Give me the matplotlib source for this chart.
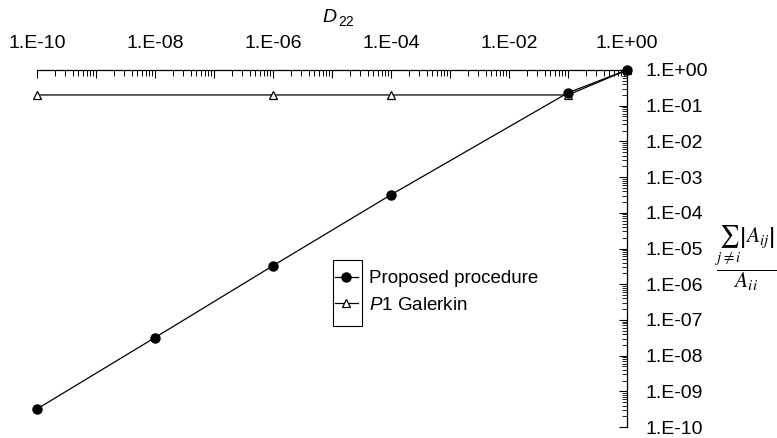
import math
import matplotlib
matplotlib.use("Agg")
import matplotlib.pyplot as plt
from matplotlib.patches import Rectangle
from matplotlib.ticker import LogLocator, FuncFormatter, NullFormatter

plt.rcParams["font.family"] = ["Liberation Sans", "DejaVu Sans"]
plt.rcParams["mathtext.fontset"] = "custom"
plt.rcParams["mathtext.rm"] = "Liberation Sans"
plt.rcParams["mathtext.it"] = "Liberation Sans:italic"

# D22 values and diagonal-dominance measure
d22 = [1e-10, 1e-8, 1e-6, 1e-4, 1e-1, 1e0]
proposed = [3.2e-10, 3.2e-8, 3.3e-6, 3.2e-4, 0.23, 1.0]
d22_gal = [1e-10, 1e-6, 1e-4, 1e-1, 1e0]
galerkin = [0.2, 0.2, 0.2, 0.2, 1.0]

W, H = 777, 438
fig = plt.figure(figsize=(W / 100, H / 100), dpi=100)
ax = fig.add_axes([37 / W, 1 - 427 / H, (627 - 37) / W, (427 - 70) / H])

ax.plot(d22_gal, galerkin, "-", color="black", lw=0.9, marker="^", ms=6,
        mfc="white", mec="black", mew=0.9, clip_on=False, label=r"$\mathit{P}$1 Galerkin", zorder=3)
ax.plot(d22, proposed, "-", color="black", lw=0.9, marker="o", ms=6.5,
        mfc="black", mec="black", clip_on=False, label="Proposed procedure", zorder=4)

ax.set_xscale("log"); ax.set_yscale("log")
ax.set_xlim(1e-10, 1); ax.set_ylim(1e-10, 1)

for s in ("left", "bottom"):
    ax.spines[s].set_visible(False)
for s in ("top", "right"):
    ax.spines[s].set_linewidth(0.9)

ax.xaxis.set_ticks_position("top"); ax.xaxis.set_label_position("top")
ax.yaxis.set_ticks_position("right"); ax.yaxis.set_label_position("right")


def sci(v, pos):
    return "1.E%+03d" % round(math.log10(v))


def sci_even(v, pos):
    return sci(v, pos) if round(math.log10(v)) % 2 == 0 else ""


ax.xaxis.set_major_locator(LogLocator(base=10, numticks=20))
ax.xaxis.set_major_formatter(FuncFormatter(sci_even))
ax.yaxis.set_major_locator(LogLocator(base=10, numticks=20))
ax.yaxis.set_major_formatter(FuncFormatter(sci))
for a in (ax.xaxis, ax.yaxis):
    a.set_minor_locator(LogLocator(base=10, subs=range(2, 10), numticks=20))
    a.set_minor_formatter(NullFormatter())

ax.tick_params(axis="x", which="major", direction="in", length=6, width=0.8, pad=13, labelsize=14)
ax.tick_params(axis="x", which="minor", direction="in", length=4, width=0.7)
ax.tick_params(axis="y", which="major", direction="in", length=6, width=0.8, pad=13, labelsize=14)
ax.tick_params(axis="y", which="minor", direction="in", length=3.5, width=0.6)

# axis titles
fig.text(322 / W, 1 - 17 / H, "D", fontsize=14, style="italic", va="center", ha="left")
fig.text(338 / W, 1 - 22 / H, "22", fontsize=10, va="center", ha="left")
fig.text(746 / W, 1 - 258 / H, r"$\dfrac{\sum_{j\neq i}\left|A_{ij}\right|}{A_{ii}}$",
         fontsize=15.5, math_fontfamily="stix", ha="center", va="center")

leg = ax.legend(handles=ax.get_lines()[::-1], loc="center left",
                bbox_to_anchor=(335 / W, 1 - 292 / H), bbox_transform=fig.transFigure,
                frameon=False, fontsize=13.5, handlelength=1.2, handletextpad=0.6,
                labelspacing=0.5, borderpad=0, borderaxespad=0)
fig.add_artist(Rectangle((333 / W, 1 - 326 / H), 29 / W, 66 / H, transform=fig.transFigure,
                         fill=False, ec="black", lw=0.8))

fig.savefig("out.png", dpi=100)
